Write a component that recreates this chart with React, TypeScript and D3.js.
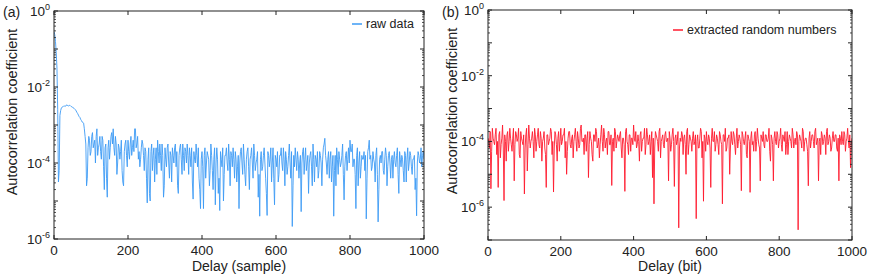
import React from 'react';
import * as d3 from 'd3';

// delay axis: values read at every 2nd lag, kept as even (4k) and odd (4k+2) columns
const lagsEven = d3.range(0, 1001, 4);
const lagsOdd = d3.range(2, 1000, 4);

// log10 of autocorrelation coefficient, raw data (panel a), lags 0,4,8,...
const rawLogEven = [
  -0.55, -0.8, -1.5, -4.5, -2.75, -2.55, -2.52, -2.5, -2.5, -2.48,
  -2.5, -2.49, -2.52, -2.55, -2.58, -2.63, -2.7, -2.78, -2.85, -2.92,
  -2.95, -3.3, -4.6, -3.6, -3.4, -3.7, -3.2, -3.5, -4.0, -3.1,
  -3.6, -3.3, -3.9, -3.4, -4.7, -3.5, -4.9, -3.4, -3.6, -3.2,
  -3.1, -3.8, -3.5, -4.0, -3.6, -3.7, -4.2, -4.6, -3.5, -3.8,
  -3.4, -3.9, -3.3, -3.6, -3.7, -3.1, -3.5, -3.9, -4.1, -3.6,
  -3.5, -4.2, -3.7, -5.05, -3.6, -5.0, -3.5, -3.8, -4.5, -3.6,
  -3.4, -4.0, -3.8, -3.5, -4.9, -3.6, -4.1, -3.5, -4.4, -3.8,
  -3.6, -4.0, -3.5, -3.7, -4.8, -3.6, -3.9, -3.5, -4.2, -3.7,
  -3.5, -4.3, -3.8, -3.6, -4.95, -3.9, -3.5, -4.1, -4.4, -5.2,
  -3.7, -5.2, -3.6, -4.0, -3.8, -4.6, -3.5, -4.2, -3.9, -5.1,
  -3.6, -4.8, -5.25, -3.9, -3.6, -4.3, -3.8, -4.0, -3.5, -4.6,
  -3.8, -3.6, -4.4, -3.9, -4.1, -5.2, -3.7, -4.0, -3.5, -4.3,
  -3.9, -3.6, -4.7, -3.8, -4.0, -3.5, -4.2, -3.9, -4.9, -5.4,
  -3.7, -4.1, -3.6, -4.4, -5.38, -3.8, -3.9, -4.5, -3.6, -5.1,
  -3.9, -3.7, -4.3, -3.8, -4.0, -3.6, -4.6, -3.9, -4.1, -3.5,
  -4.4, -5.67, -3.8, -3.6, -4.2, -3.9, -4.0, -5.28, -3.7, -4.3,
  -3.6, -4.0, -4.8, -3.8, -4.1, -3.5, -4.5, -3.9, -3.7, -4.2,
  -3.8, -4.6, -3.6, -3.35, -4.0, -3.9, -4.4, -3.7, -4.1, -5.4,
  -3.8, -3.6, -4.3, -3.9, -4.0, -3.5, -4.97, -3.8, -4.2, -3.6,
  -3.4, -3.7, -4.1, -3.9, -5.2, -3.6, -4.0, -4.4, -3.8, -3.9,
  -4.2, -5.47, -3.7, -3.4, -3.8, -4.1, -3.9, -4.5, -3.6, -5.55,
  -3.9, -4.0, -3.7, -4.3, -3.6, -4.6, -3.8, -4.0, -3.9, -4.4,
  -3.7, -4.1, -3.6, -4.8, -3.9, -3.8, -4.2, -3.7, -4.5, -3.6,
  -4.0, -3.8, -4.3, -3.9, -4.7, -5.39, -3.7, -4.0, -3.6, -3.8,
  -3.9,
];

// raw data, lags 2,6,10,...
const rawLogOdd = [
  -0.62, -1.1, -2.6, -4.2, -2.62, -2.53, -2.5, -2.51, -2.47, -2.5,
  -2.48, -2.51, -2.53, -2.56, -2.6, -2.67, -2.74, -2.8, -2.88, -2.93,
  -3.1, -3.5, -4.4, -3.3, -3.8, -3.3, -3.6, -3.4, -3.3, -3.8,
  -3.5, -3.7, -3.3, -4.1, -3.6, -4.4, -3.6, -3.9, -3.3, -3.5,
  -3.6, -3.3, -4.3, -3.5, -3.9, -3.4, -4.5, -3.7, -3.4, -4.1,
  -3.7, -3.5, -3.8, -3.4, -3.1, -3.6, -3.3, -3.7, -3.9, -3.4,
  -3.8, -3.6, -4.4, -3.9, -4.8, -3.7, -4.2, -3.6, -3.9, -4.3,
  -3.7, -3.5, -4.2, -3.8, -4.6, -3.9, -3.6, -4.0, -3.7, -4.5,
  -3.8, -3.6, -4.1, -4.6, -3.8, -3.5, -4.3, -3.8, -3.6, -4.0,
  -3.8, -3.6, -4.1, -4.5, -3.7, -4.0, -3.8, -3.6, -4.7, -3.9,
  -4.1, -3.8, -4.4, -3.7, -3.9, -4.2, -3.8, -4.7, -3.6, -4.0,
  -3.9, -4.4, -3.7, -4.1, -5.0, -3.8, -3.6, -4.2, -3.9, -3.7,
  -4.1, -3.9, -3.7, -4.5, -3.8, -4.0, -3.6, -4.3, -3.9, -4.6,
  -3.7, -4.1, -3.9, -3.6, -4.4, -3.8, -4.0, -3.7, -4.3, -3.9,
  -4.2, -3.8, -4.0, -4.8, -3.7, -4.1, -3.6, -4.0, -4.4, -3.8,
  -4.1, -4.5, -3.8, -3.6, -4.2, -3.9, -3.7, -4.3, -3.8, -4.0,
  -3.7, -4.6, -4.1, -3.9, -3.7, -4.4, -3.8, -4.0, -3.6, -3.9,
  -4.2, -3.8, -4.0, -3.7, -4.6, -3.9, -3.8, -4.1, -4.4, -3.7,
  -4.0, -3.9, -3.5, -3.8, -4.3, -3.7, -3.9, -4.5, -3.8, -4.2,
  -4.6, -3.9, -3.7, -4.1, -3.8, -4.3, -4.1, -3.7, -3.9, -4.0,
  -3.7, -3.5, -3.9, -4.3, -3.8, -4.6, -3.7, -4.1, -3.9, -3.7,
  -3.8, -4.4, -3.6, -3.9, -4.2, -3.7, -4.0, -3.8, -4.3, -4.7,
  -3.8, -3.7, -4.2, -3.9, -3.8, -4.1, -3.7, -4.4, -3.8, -3.9,
  -4.0, -3.8, -4.3, -3.7, -4.1, -3.9, -4.5, -3.8, -3.9, -4.2,
  -3.7, -4.1, -3.9, -3.8, -4.4, -4.0, -3.8, -3.9, -4.1, -3.7,
];

// log10 of autocorrelation coefficient, extracted random numbers (panel b), lags 0,4,8,...
const extractedLogEven = [
  -3.9, -4.2, -5.44, -3.6, -4.0, -3.8, -4.4, -5.4, -3.7, -4.1,
  -3.5, -5.8, -4.0, -3.8, -4.3, -3.6, -4.1, -3.9, -5.2, -3.7,
  -4.0, -3.6, -4.5, -3.9, -4.1, -5.6, -3.8, -4.9, -3.5, -4.2,
  -3.9, -4.0, -3.6, -4.3, -3.8, -4.1, -3.7, -4.6, -3.9, -4.2,
  -5.4, -3.8, -4.0, -3.6, -4.4, -5.54, -3.7, -4.1, -3.9, -4.3,
  -3.6, -4.0, -3.8, -4.5, -5.0, -3.9, -3.7, -4.2, -3.8, -4.0,
  -3.6, -4.3, -3.9, -4.1, -3.5, -4.0, -4.4, -3.8, -3.9, -5.1,
  -3.7, -4.0, -4.6, -3.8, -3.6, -4.2, -3.9, -4.1, -3.5, -4.3,
  -3.8, -4.0, -4.4, -3.7, -4.1, -5.34, -3.9, -3.6, -4.2, -3.8,
  -4.0, -3.7, -4.5, -3.9, -5.52, -3.6, -4.1, -3.8, -4.3, -3.9,
  -3.5, -4.0, -4.2, -3.8, -4.6, -3.7, -4.0, -3.9, -4.4, -3.6,
  -4.1, -3.8, -4.0, -5.1, -5.9, -3.7, -3.9, -4.3, -3.6, -4.0,
  -3.8, -4.2, -3.7, -4.0, -5.2, -3.9, -4.1, -3.6, -5.37, -3.8,
  -4.0, -6.63, -3.9, -3.7, -4.4, -3.8, -5.0, -3.6, -4.1, -3.9,
  -4.3, -3.7, -4.0, -6.35, -3.8, -4.2, -3.6, -4.5, -5.82, -3.9,
  -3.7, -4.1, -3.9, -5.4, -3.6, -4.0, -4.3, -3.8, -4.1, -3.7,
  -4.0, -5.9, -3.8, -3.6, -4.2, -3.9, -5.0, -3.7, -4.1, -3.8,
  -4.4, -3.6, -4.0, -3.9, -5.5, -3.8, -4.1, -3.7, -4.5, -3.9,
  -5.55, -3.7, -4.0, -3.8, -4.3, -3.6, -4.1, -5.2, -3.9, -3.7,
  -4.2, -3.8, -4.0, -3.6, -4.6, -3.9, -5.2, -3.7, -4.1, -3.8,
  -4.0, -3.6, -4.3, -3.9, -3.7, -4.1, -4.4, -3.8, -4.0, -3.6,
  -4.2, -3.9, -3.7, -6.69, -3.8, -4.0, -3.6, -4.3, -3.9, -4.1,
  -5.35, -3.7, -4.0, -3.8, -4.2, -3.6, -4.0, -5.2, -3.9, -3.7,
  -4.1, -3.8, -4.4, -3.6, -4.0, -3.9, -4.2, -3.7, -4.0, -3.8,
  -4.3, -5.2, -3.9, -3.7, -4.1, -3.8, -4.0, -3.6, -4.2, -4.8,
  -3.9,
];

// extracted random numbers, lags 2,6,10,...
const extractedLogOdd = [
  -4.0, -3.7, -4.3, -3.9, -4.1, -3.6, -4.0, -3.8, -4.5, -3.9,
  -4.2, -3.8, -4.6, -3.7, -4.0, -3.9, -4.3, -3.6, -4.1, -3.8,
  -3.9, -4.4, -3.7, -4.0, -3.8, -4.2, -3.6, -4.1, -3.9, -4.0,
  -3.7, -4.5, -3.8, -4.0, -3.6, -4.2, -3.9, -4.0, -3.7, -4.4,
  -3.8, -4.1, -3.9, -3.7, -4.0, -4.2, -3.8, -4.6, -3.7, -4.0,
  -4.1, -3.8, -3.6, -4.0, -4.3, -3.7, -4.1, -3.9, -4.5, -3.8,
  -4.0, -3.7, -4.2, -3.6, -4.0, -3.9, -3.8, -4.3, -3.7, -4.1,
  -3.9, -4.4, -3.8, -4.0, -3.7, -4.1, -4.5, -3.8, -4.0, -3.6,
  -4.2, -3.9, -3.7, -4.1, -3.8, -4.0, -4.3, -3.7, -4.0, -3.9,
  -3.8, -4.2, -3.9, -4.1, -3.7, -4.0, -4.4, -3.8, -3.9, -4.1,
  -3.9, -3.7, -4.1, -4.0, -3.8, -4.3, -3.9, -3.6, -4.1, -3.8,
  -4.0, -4.4, -3.7, -3.9, -4.2, -3.8, -4.0, -3.7, -4.5, -3.9,
  -4.1, -3.8, -4.0, -3.9, -3.7, -4.3, -3.8, -4.0, -3.9, -4.1,
  -3.7, -4.2, -4.0, -3.8, -3.9, -4.1, -3.7, -4.4, -3.8, -4.0,
  -3.9, -4.1, -3.8, -4.0, -4.2, -3.9, -3.7, -4.0, -3.8, -4.3,
  -4.0, -3.8, -4.2, -3.9, -4.0, -3.7, -4.1, -3.9, -4.4, -3.8,
  -4.1, -3.8, -4.0, -4.3, -3.9, -3.8, -4.2, -4.0, -3.7, -4.1,
  -3.9, -4.2, -3.8, -4.1, -3.7, -4.0, -3.9, -4.4, -3.8, -4.0,
  -3.9, -4.1, -4.3, -3.7, -4.0, -3.9, -4.2, -3.8, -4.0, -4.1,
  -3.8, -4.0, -3.9, -4.3, -3.8, -4.1, -3.9, -4.0, -3.7, -4.2,
  -3.9, -4.1, -3.8, -4.0, -4.4, -3.7, -4.0, -3.9, -4.2, -3.8,
  -4.0, -4.1, -3.8, -4.0, -3.9, -4.2, -3.7, -4.0, -3.9, -4.3,
  -3.9, -4.2, -3.8, -4.0, -3.7, -4.1, -3.9, -4.0, -4.4, -3.8,
  -4.0, -3.9, -3.7, -4.1, -3.8, -4.3, -3.9, -4.0, -3.8, -4.2,
  -3.9, -3.8, -4.1, -4.0, -3.7, -4.3, -3.9, -4.0, -3.8, -4.1,
];

const xTicks = [0, 200, 400, 600, 800, 1000];
const yTickExps = [0, -2, -4, -6];

const font = '"Liberation Sans", Arial, Helvetica, sans-serif';
const ink = '#222';

type PanelProps = {
  id: string;
  tag: string;
  left: number;
  right: number;
  top: number;
  bottom: number;
  minExp: number;
  even: number[];
  odd: number[];
  color: string;
  xTitle: string;
  yTitleX: number;
  yTitleY: number;
  tagX: number;
  legend: string;
  legendX: number;
  legendY: number;
};

const Panel = (p: PanelProps) => {
  const x = d3.scaleLinear().domain([0, 1000]).range([p.left, p.right]);
  const y = d3.scaleLog().domain([Math.pow(10, p.minExp), 1]).range([p.bottom, p.top]);

  const pts = [
    ...lagsEven.map((lag, i) => [lag, Math.pow(10, p.even[i])] as [number, number]),
    ...lagsOdd.map((lag, i) => [lag, Math.pow(10, p.odd[i])] as [number, number]),
  ].sort((a, b) => a[0] - b[0]);

  const line = d3.line<[number, number]>()
    .x((d) => x(d[0]))
    .y((d) => y(d[1]));

  // log ticks: decades + minor 2..9
  const minor: number[] = [];
  const major: number[] = [];
  for (let e = p.minExp; e < 0; e++) {
    major.push(Math.pow(10, e));
    for (let k = 2; k <= 9; k++) minor.push(k * Math.pow(10, e));
  }
  major.push(1);

  return (
    <g>
      <defs>
        <clipPath id={`clip-${p.id}`}>
          <rect x={p.left} y={p.top} width={p.right - p.left} height={p.bottom - p.top} />
        </clipPath>
      </defs>
      <path
        d={line(pts) || ''}
        fill="none"
        stroke={p.color}
        strokeWidth={0.9}
        strokeLinejoin="round"
        clipPath={`url(#clip-${p.id})`}
      />
      <rect
        x={p.left}
        y={p.top}
        width={p.right - p.left}
        height={p.bottom - p.top}
        fill="none"
        stroke={ink}
        strokeWidth={1}
      />
      {xTicks.map((t) => (
        <g key={t}>
          <line x1={x(t)} x2={x(t)} y1={p.bottom} y2={p.bottom - 4} stroke={ink} />
          <line x1={x(t)} x2={x(t)} y1={p.top} y2={p.top + 4} stroke={ink} />
          <text x={x(t)} y={p.bottom + 16} textAnchor="middle" fontSize={13.5} fill={ink} fontFamily={font}>
            {t}
          </text>
        </g>
      ))}
      {major.map((v, i) => (
        <g key={'M' + i}>
          <line x1={p.left} x2={p.left + 4} y1={y(v)} y2={y(v)} stroke={ink} />
          <line x1={p.right} x2={p.right - 4} y1={y(v)} y2={y(v)} stroke={ink} />
        </g>
      ))}
      {minor.map((v, i) => (
        <g key={'m' + i}>
          <line x1={p.left} x2={p.left + 2} y1={y(v)} y2={y(v)} stroke={ink} strokeWidth={0.8} />
          <line x1={p.right} x2={p.right - 2} y1={y(v)} y2={y(v)} stroke={ink} strokeWidth={0.8} />
        </g>
      ))}
      {yTickExps.map((e) => (
        <text key={e} x={p.left - 4} y={y(Math.pow(10, e)) + 5} textAnchor="end" fontSize={13.5} fill={ink} fontFamily={font}>
          10<tspan dy={-6} fontSize={9}>{e}</tspan>
        </text>
      ))}
      <text
        x={(p.left + p.right) / 2}
        y={271}
        textAnchor="middle"
        fontSize={14}
        fill={ink}
        fontFamily={font}
      >
        {p.xTitle}
      </text>
      <text
        transform={`translate(${p.yTitleX},${p.yTitleY}) rotate(-90)`}
        textAnchor="middle"
        fontSize={14.5}
        fill={ink}
        fontFamily={font}
      >
        Autocorrelation coefficient
      </text>
      <text x={p.tagX} y={17} fontSize={14} fill={ink} fontFamily={font}>
        {p.tag}
      </text>
      <line x1={p.legendX} x2={p.legendX + 10} y1={p.legendY} y2={p.legendY} stroke={p.color} strokeWidth={1.5} />
      <text x={p.legendX + 14} y={p.legendY + 4} fontSize={12.5} fill={ink} fontFamily={font}>
        {p.legend}
      </text>
    </g>
  );
};

export default function App() {
  return (
    <svg width={872} height={279} style={{ display: 'block', position: 'absolute', left: 0, top: 0, background: '#fff' }}>
      <Panel
        id="a"
        tag="(a)"
        left={54}
        right={424}
        top={11}
        bottom={239}
        minExp={-6}
        even={rawLogEven}
        odd={rawLogOdd}
        color="#3d9bf5"
        xTitle="Delay (sample)"
        yTitleX={17}
        yTitleY={112}
        tagX={3}
        legend="raw data"
        legendX={352}
        legendY={24}
      />
      <Panel
        id="b"
        tag="(b)"
        left={488}
        right={852}
        top={10}
        bottom={240}
        minExp={-7}
        even={extractedLogEven}
        odd={extractedLogOdd}
        color="#ff1a2e"
        xTitle="Delay (bit)"
        yTitleX={457}
        yTitleY={111}
        tagX={442}
        legend="extracted random numbers"
        legendX={673}
        legendY={30}
      />
    </svg>
  );
}
